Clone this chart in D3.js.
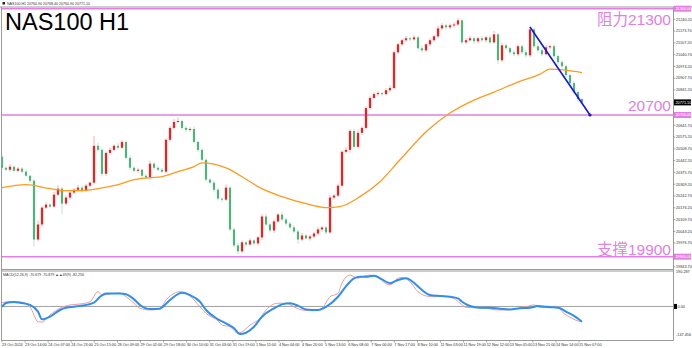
<!DOCTYPE html>
<html><head><meta charset="utf-8">
<script src="https://cdn.jsdelivr.net/npm/d3@7"></script>
<style>body{margin:0;background:#fff;overflow:hidden}svg{display:block}</style>
</head><body>
<svg id="c" width="692" height="348"></svg>
<script>
// ---------------- DATA ----------------
const headerText = "NAS100,H1  20760.90 20768.40 20760.90 20771.10";
const titleText = "NAS100 H1";
const firstOpen = 20464;
const closes = [
 20402,20391,20408,20385,20397,20380,20357,20329,19997,20082,
 20177,20194,20183,20250,20284,20200,20234,20262,20278,20290,
 20273,20301,20318,20526,20503,20368,20486,20503,20526,20515,
 20548,20458,20402,20385,20391,20357,20346,20425,20402,20391,
 20380,20560,20627,20661,20666,20627,20616,20621,20548,20503,
 20447,20335,20318,20278,20228,20222,20290,20054,19964,19930,
 19981,19969,19992,19975,20009,20127,20082,20048,20099,20138,
 20110,20087,20065,20042,19997,20020,20003,20014,20031,20054,
 20065,20037,20234,20245,20301,20492,20503,20610,20520,20599,
 20627,20739,20796,20818,20824,20818,20840,20852,21054,21099,
 21122,21133,21127,21138,21077,21065,21099,21122,21144,21189,
 21206,21195,21206,21211,21234,21110,21122,21133,21116,21133,
 21122,21138,21110,21155,21009,21093,21077,21054,21043,21088,
 21054,21037,21183,21088,21065,21043,21082,21088,21032,20998,
 20975,20925,20880,20829,20790,20771];
const wickUp = [
 12,8,15,6,10,9,14,7,11,22, 9,13,8,17,20,10,12,7,9,15,
 11,8,6,56,18,12,9,14,8,16, 11,7,13,9,12,6,10,18,8,11,
 9,7,12,15,20,9,13,10,16,8, 12,7,10,14,9,6,18,8,11,14,
 10,9,13,7,8,12,16,9,11,7, 14,10,8,12,9,15,7,11,10,13,
 8,9,14,10,12,7,16,9,11,18, 8,10,13,9,12,7,11,15,10,8,
 9,13,7,12,10,16,8,11,9,14, 12,8,10,13,12,9,11,15,8,10,
 12,9,14,20,9,13,10,8,12,9, 11,14,14,10,18,9,12,8,11,10,
 13,9,8,12,10,6];
const wickDn = [
 10,7,12,9,8,11,6,13,40,10, 14,8,11,7,9,62,10,12,8,9,
 11,7,9,10,8,15,12,9,7,11, 8,10,13,9,12,15,10,7,11,9,
 8,10,12,9,7,11,13,10,8,12, 9,11,8,13,10,15,7,10,12,17,
 9,11,8,12,10,14,9,11,13,8, 10,12,9,11,25,10,8,12,9,11,
 13,9,10,12,8,11,9,14,10,8, 11,9,12,8,10,13,9,11,8,10,
 12,9,11,8,13,10,9,12,8,11, 10,13,9,11,8,12,10,9,14,11,
 9,12,10,8,22,11,9,13,10,12, 8,11,10,9,12,10,8,11,9,13,
 10,12,9,11,14,8];
const maIdx = [0,6,12,16,20,24,29,33,37,40,44,48,50,56,62,64.5,70,77,81,84.5,89.5,94.5,99.5,106.5,112,118,123,129,134.5,137,141,145];
const maVal = [20290,20307,20284,20273,20273,20284,20307,20335,20346,20352,20380,20408,20430,20402,20323,20290,20239,20194,20177,20183,20239,20323,20447,20615,20711,20784,20829,20886,20931,20959,20953,20939];
const signalIdx = [0,1,3,4.5,7,9,10,12,14.5,16,19.5,23,24.5,26,29.5,31,33,34.5,37,39.5,40,42,44,45,47,49.5,51,54,56,58,59.5,61,63,65,68,70,72,74,76,79,81,84,86,88,89.5,91,93,95,97,99,101,103,104.5,107,109.5,112,114,115,117,119.5,122,124.5,127,129.5,132,134,136,138,139.5,141,143,145];
const signalVal = [-2,18,24,20,8,-28,-69,-55,-19,-7,2,20,52,70,70,65,38,8,-14,-12,-5,34,66,73,61,25,-19,-69,-91,-117,-148,-141,-109,-55,-10,11,17,4,-16,-19,-2,52,108,151,159,159,165,145,124,142,151,127,97,61,56,52,43,25,2,-7,-7,-12,-16,-10,-7,2,-2,-5,-10,-28,-51,-82];
const macdIdx = [0,1.5,4.5,7,9,10,12,14.5,17,19.5,22,24,25,28,29.5,31,33,34.5,37,39.5,41,43,44.5,47,49.5,51,54,55,57,59,60,62,64.5,66,69,71,73,75,78,80,82,84,85,87,89,90,92,94,95,97,99,100,102,104,106,108,110,113,114.5,116,119,121,124,126,129,131,133,134.5,137,139,140,142,144,145];
const macdVal = [20,25,24,-3,-82,-84,-46,-10,8,13,25,79,61,70,72,52,17,-10,-19,-10,34,70,79,56,-2,-37,-77,-100,-109,-144,-136,-100,-64,-19,17,17,-2,-19,-23,-10,52,70,125,168,151,159,168,159,138,115,151,156,132,79,56,52,56,43,17,-5,-7,-10,-19,-19,-10,-2,8,-5,-7,-2,-28,-58,-78,-82];
const trendIdx = [132, 147];
const trendVal = [21197, 20700];
const levels = [21300, 20700, 19900];
const levelLabels = ["阻力21300", "20700", "支撑19900"];
const priceTicks = [21240.20,21173.70,21107.20,21040.70,20974.20,20907.70,20841.20,20774.70,20708.20,20641.70,20575.20,20508.70,20442.20,20375.70,20309.20,20242.70,20176.20,20109.70,20043.20,19976.70,19910.20,19843.70];
const lastPrice = 20771.10;
const macdTicks = [190.287, -147.456];
const macdHeader = "MACD(12,26,9) -70.679 -70.879 ▲▲49(9) -82.256";
const timeLabels = ["23 Oct 2024","23 Oct 14:00","24 Oct 07:00","24 Oct 23:00","25 Oct 15:00","28 Oct 09:00","29 Oct 02:00","29 Oct 18:00","30 Oct 10:00","31 Oct 03:00","31 Oct 19:00","1 Nov 11:00","4 Nov 04:00","4 Nov 20:00","5 Nov 13:00","6 Nov 08:00","7 Nov 00:00","7 Nov 17:00","8 Nov 10:00","11 Nov 03:00","11 Nov 19:00","12 Nov 12:00","13 Nov 05:00","13 Nov 21:00","14 Nov 14:00","15 Nov 07:00"];

// ---------------- LAYOUT ----------------
const W = 692, H = 348;
const L = 1.5, R = 673.5, mainTop = 7, mainBot = 269.5, indTop = 271, indBot = 340.5;
const PINK = "#e27fe0", UP = "#ff1a1a", DN = "#4db57c";
const svg = d3.select("#c");
const x = d3.scaleLinear().domain([0, 145]).range([2, 582]);
const y = d3.scaleLinear().domain([19900, 21300]).range([256.7, 8.7]);
const ym = d3.scaleLinear().domain([-180, 190]).range([340, 271]);
const tx = d3.scalePoint().domain(timeLabels).range([2, 579]);
const smallFont = "'Liberation Sans', Arial, sans-serif";

svg.append("rect").attr("width", W).attr("height", H).attr("fill", "#fff");
svg.append("clipPath").attr("id", "mc").append("rect").attr("x", L).attr("y", mainTop).attr("width", R - L).attr("height", mainBot - mainTop);
svg.append("clipPath").attr("id", "ic").append("rect").attr("x", L).attr("y", indTop).attr("width", R - L).attr("height", indBot - indTop);

// header
svg.append("rect").attr("x", 2.5).attr("y", 2).attr("width", 2.5).attr("height", 2.5).attr("fill", "#222");
svg.append("text").attr("x", 7).attr("y", 5).attr("font-size", 3.6).attr("font-family", smallFont).attr("fill", "#333").text(headerText);

// frame
const frame = svg.append("g").attr("stroke", "#9a9a9a").attr("stroke-width", 1).attr("fill", "none");
frame.append("line").attr("x1", 0).attr("x2", W).attr("y1", mainTop).attr("y2", mainTop);
frame.append("line").attr("x1", L).attr("x2", L).attr("y1", mainTop).attr("y2", indBot);
frame.append("line").attr("x1", R).attr("x2", R).attr("y1", mainTop).attr("y2", indBot);
frame.append("line").attr("x1", L).attr("x2", R).attr("y1", mainBot).attr("y2", mainBot);
frame.append("line").attr("x1", L).attr("x2", R).attr("y1", indTop).attr("y2", indTop);
frame.append("line").attr("x1", L).attr("x2", R).attr("y1", indBot).attr("y2", indBot);

// main panel
const main = svg.append("g").attr("clip-path", "url(#mc)");

// title
svg.append("text").attr("x", 5).attr("y", 30).attr("font-size", 23.5)
  .attr("font-family", "'Liberation Sans', Arial, sans-serif").attr("fill", "#000").text(titleText);

// level lines
main.selectAll("line.lvl").data(levels).join("line").attr("class", "lvl")
  .attr("x1", L).attr("x2", R).attr("y1", d => y(d)).attr("y2", d => y(d))
  .attr("stroke", PINK).attr("stroke-width", 1.6);
const lblOff = [16, -3.5, -2.2];
svg.selectAll("text.lvl").data(levels).join("text").attr("class", "lvl")
  .attr("x", 671).attr("y", (d, i) => y(d) + lblOff[i]).attr("text-anchor", "end")
  .attr("font-size", 15.5).attr("fill", PINK)
  .attr("font-family", "'Liberation Sans', Arial, 'Noto Sans CJK SC', sans-serif")
  .text((d, i) => levelLabels[i]);

// candles
const candles = closes.map((c, i) => {
  const o = i === 0 ? firstOpen : closes[i - 1];
  return { i, o, c, h: Math.max(o, c) + wickUp[i], l: Math.min(o, c) - wickDn[i] };
});
main.selectAll("line.wick").data(candles).join("line").attr("class", "wick")
  .attr("x1", d => x(d.i)).attr("x2", d => x(d.i)).attr("y1", d => y(d.h)).attr("y2", d => y(d.l))
  .attr("stroke", d => d.c >= d.o ? UP : DN).attr("stroke-opacity", 0.35).attr("stroke-width", 1);
main.selectAll("rect.body").data(candles).join("rect").attr("class", "body")
  .attr("x", d => x(d.i) - 1.1).attr("width", 2.2)
  .attr("y", d => y(Math.max(d.o, d.c))).attr("height", d => Math.max(1, Math.abs(y(d.o) - y(d.c))))
  .attr("fill", d => d.c >= d.o ? UP : DN);

// moving average
main.append("path").datum(maIdx.map((v, k) => [v, maVal[k]]))
  .attr("d", d3.line().x(d => x(d[0])).y(d => y(d[1])).curve(d3.curveMonotoneX))
  .attr("fill", "none").attr("stroke", "#ff9a1f").attr("stroke-width", 1.3);

// trend line
main.append("line").attr("x1", x(trendIdx[0])).attr("y1", y(trendVal[0]))
  .attr("x2", x(trendIdx[1])).attr("y2", y(trendVal[1]))
  .attr("stroke", "#1414f0").attr("stroke-width", 1.6);
main.append("circle").attr("cx", x(trendIdx[1])).attr("cy", y(trendVal[1])).attr("r", 1.6).attr("fill", "#1414f0");

// price axis (ticks hidden under the level / last-price boxes are skipped)
const boxes = levels.concat([lastPrice]);
const visTicks = priceTicks.filter(t => boxes.every(b => Math.abs(y(t) - y(b)) > 4.5));
const pa = svg.append("g").attr("font-family", smallFont).attr("font-size", 3.8).attr("fill", "#333");
pa.selectAll("line").data(priceTicks).join("line")
  .attr("x1", R).attr("x2", R + 2).attr("y1", d => y(d)).attr("y2", d => y(d)).attr("stroke", "#777").attr("stroke-width", 0.6);
pa.selectAll("text").data(visTicks).join("text")
  .attr("x", R + 2.5).attr("y", d => y(d) + 1.3).text(d => d.toFixed(2));
// level boxes
const lb = svg.selectAll("g.lb").data(levels).join("g").attr("class", "lb");
lb.append("rect").attr("x", R + 0.5).attr("y", d => y(d) - 3).attr("width", 17).attr("height", 6).attr("fill", PINK);
lb.append("text").attr("x", R + 2).attr("y", d => y(d) + 1.4).attr("font-size", 3.8).attr("font-family", smallFont)
  .attr("fill", "#fff").text(d => d.toFixed(2));
// last price box
svg.append("rect").attr("x", R + 0.5).attr("y", y(lastPrice) - 3).attr("width", 17).attr("height", 6).attr("fill", "#000");
svg.append("text").attr("x", R + 2).attr("y", y(lastPrice) + 1.4).attr("font-size", 3.8).attr("font-family", smallFont)
  .attr("fill", "#fff").text(lastPrice.toFixed(2));

// indicator panel
const ind = svg.append("g").attr("clip-path", "url(#ic)");
ind.append("line").attr("x1", L).attr("x2", R).attr("y1", ym(0)).attr("y2", ym(0)).attr("stroke", "#a0a0a0").attr("stroke-width", 1);
ind.append("path").datum(macdIdx.map((v, k) => [v, macdVal[k]]))
  .attr("d", d3.line().x(d => x(d[0])).y(d => ym(d[1])).curve(d3.curveMonotoneX))
  .attr("fill", "none").attr("stroke", "#f49a9a").attr("stroke-width", 1);
ind.append("path").datum(signalIdx.map((v, k) => [v, signalVal[k]]))
  .attr("d", d3.line().x(d => x(d[0])).y(d => ym(d[1])).curve(d3.curveMonotoneX))
  .attr("fill", "none").attr("stroke", "#2f8ff0").attr("stroke-width", 2);
svg.append("text").attr("x", 3).attr("y", 275.5).attr("font-size", 3.6).attr("font-family", smallFont).attr("fill", "#333").text(macdHeader);
// indicator axis labels
svg.selectAll("text.mt").data(macdTicks).join("text").attr("class", "mt")
  .attr("x", R + 2.5).attr("y", d => ym(d) + 1.8).attr("font-size", 3.8).attr("font-family", smallFont).attr("fill", "#333")
  .text(d => d.toFixed(3));
svg.append("rect").attr("x", R + 0.5).attr("y", ym(0) - 2.5).attr("width", 3).attr("height", 5).attr("fill", "#000");
svg.append("text").attr("x", R + 4).attr("y", ym(0) + 1.4).attr("font-size", 3.8).attr("font-family", smallFont).attr("fill", "#333").text("0.00");

// time axis
const ta = svg.append("g").attr("font-family", smallFont).attr("font-size", 3.8).attr("fill", "#333");
ta.selectAll("line").data(timeLabels).join("line")
  .attr("x1", d => tx(d)).attr("x2", d => tx(d)).attr("y1", indBot).attr("y2", indBot + 2).attr("stroke", "#777").attr("stroke-width", 0.6);
ta.selectAll("text").data(timeLabels).join("text")
  .attr("x", d => tx(d)).attr("y", 345.5).text(d => d);
</script>
</body></html>
